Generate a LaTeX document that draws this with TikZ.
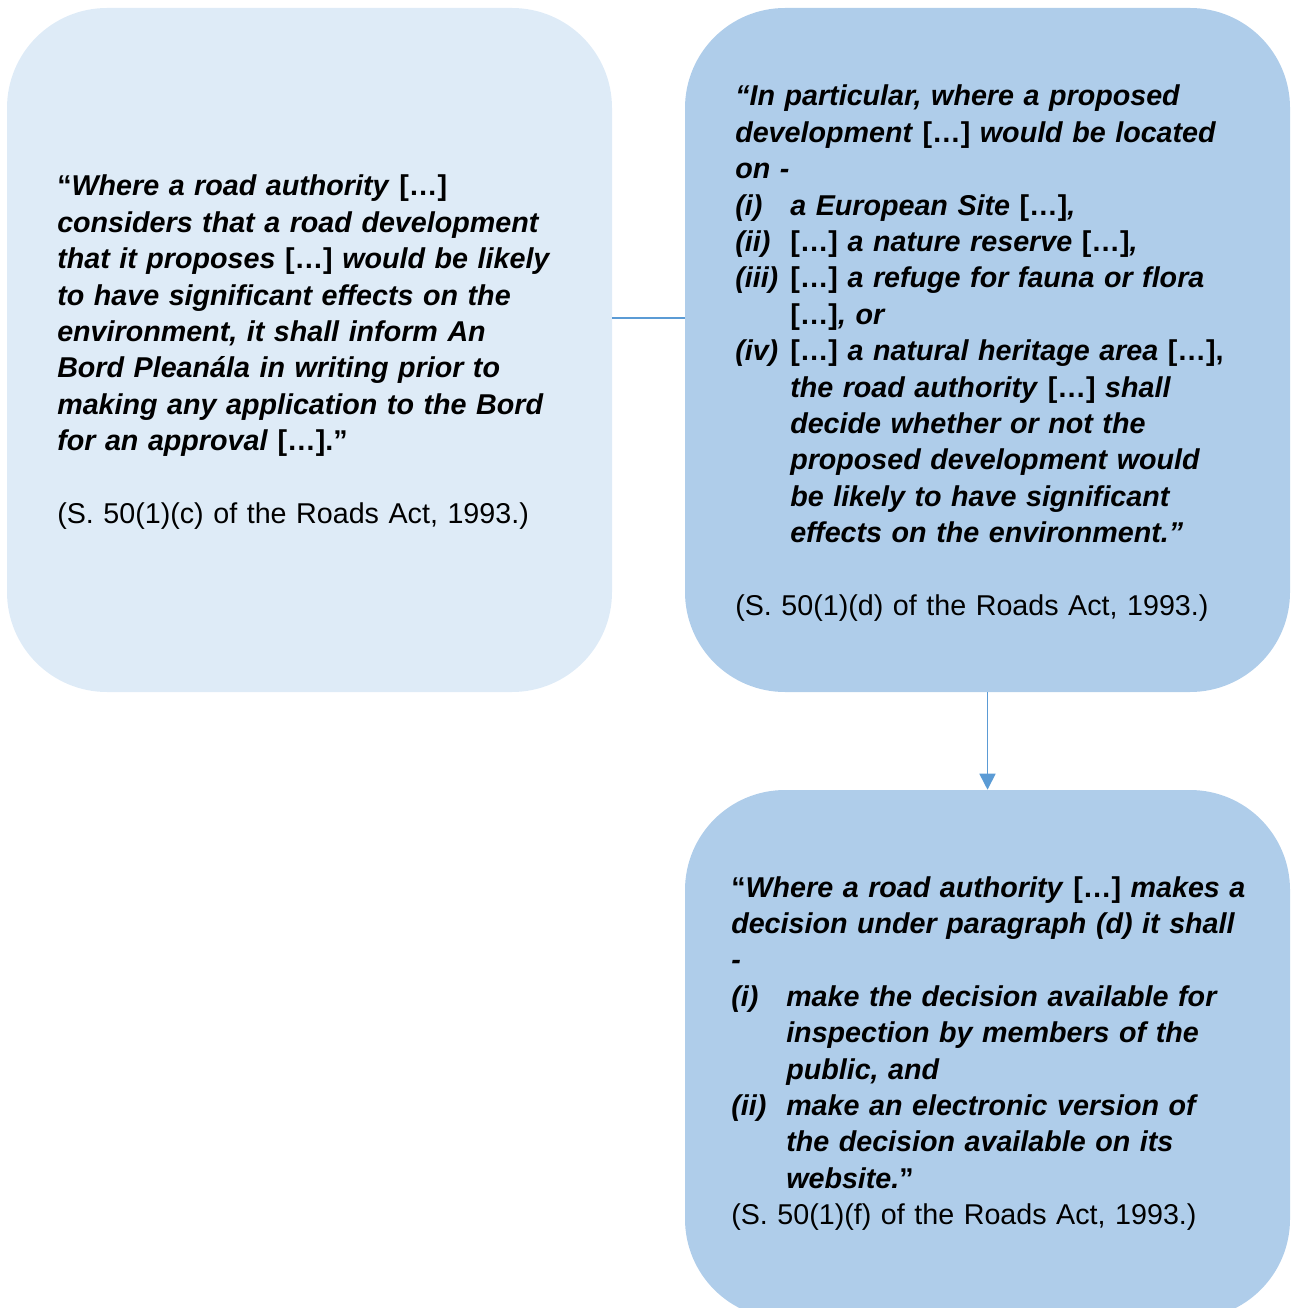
\documentclass[tikz,border=0pt]{standalone}
\usepackage{fontspec}
\setmainfont{Liberation Sans}
\usetikzlibrary{arrows.meta}

\definecolor{paleblue}{RGB}{222,235,247}
\definecolor{midblue}{RGB}{175,205,234}
\definecolor{linkblue}{RGB}{91,155,213}

% hanging indent for the numbered sub-paragraphs
\newlength\hangw
\setlength\hangw{41.25pt}
\newcommand\hangitem[1]{\makebox[\hangw][l]{#1}}
\newcommand\hangcont{\hspace*{\hangw}}
\newcommand\br[1]{\textup{#1}}
\newcommand\citeline[1]{{\mdseries\upshape #1}}

\tikzset{
  x=0.75pt, y=-0.75pt,
  panel/.style={rounded corners=75pt, inner sep=0pt, minimum width=453.75pt},
  quotetext/.style={anchor=base west, inner sep=0pt, align=left, text width=420pt,
    font=\fontsize{21.5}{27.3}\selectfont\bfseries\itshape},
  conn/.style={draw=linkblue, line width=1.2pt},
}

\begin{document}
\begin{tikzpicture}
\useasboundingbox (0,0) rectangle (1290,1308);
\clip (0,0) rectangle (1290,1308);

% the three panels
\node[panel, fill=paleblue, minimum height=513pt] (lbox) at (309.5,350) {};
\node[panel, fill=midblue, minimum height=513pt] (rbox) at (987.5,350) {};
\node[panel, fill=midblue, minimum height=396.75pt] (bbox) at (987.5,1054.5) {};

% connectors
\draw[conn] ([yshift=24pt]lbox.east) -- ([yshift=24pt]rbox.west);
\draw[conn, -{Triangle[length=12pt,width=12pt]}] (rbox.south) -- (bbox.north);

% S. 50(1)(c)
\node[quotetext] (ltext) at (57,196) {%
\br{“}Where a road authority \br{[…]}\\
considers that a road development\\
that it proposes \br{[…]} would be likely\\
to have significant effects on the\\
environment, it shall inform An\\
Bord Pleanála in writing prior to\\
making any application to the Bord\\
for an approval \br{[…].”}\\[27.3pt]
\citeline{(S. 50(1)(c) of the Roads Act, 1993.)}};

% S. 50(1)(d)
\node[quotetext] (rtext) at (735,106) {%
“In particular, where a proposed\\
development \br{[…]} would be located\\
on -\\
\hangitem{(i)}a European Site \br{[…]},\\
\hangitem{(ii)}\br{[…]} a nature reserve \br{[…]},\\
\hangitem{(iii)}\br{[…]} a refuge for fauna or flora\\
\hangcont\br{[…]}, or\\
\hangitem{(iv)}\br{[…]} a natural heritage area \br{[…],}\\
\hangcont the road authority \br{[…]} shall\\
\hangcont decide whether or not the\\
\hangcont proposed development would\\
\hangcont be likely to have significant\\
\hangcont effects on the environment.”\\[27.3pt]
\citeline{(S. 50(1)(d) of the Roads Act, 1993.)}};

% S. 50(1)(f)
\node[quotetext] (btext) at (731,897) {%
\br{“}Where a road authority \br{[…]} makes a\\
decision under paragraph (d) it shall\\
-\\
\hangitem{(i)}make the decision available for\\
\hangcont inspection by members of the\\
\hangcont public, and\\
\hangitem{(ii)}make an electronic version of\\
\hangcont the decision available on its\\
\hangcont website.\br{”}\\
\citeline{(S. 50(1)(f) of the Roads Act, 1993.)}};
\end{tikzpicture}
\end{document}
